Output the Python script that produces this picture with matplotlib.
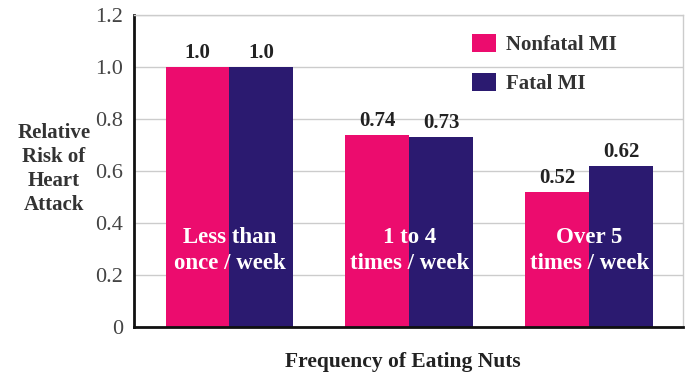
import numpy as np
import matplotlib
matplotlib.use("Agg")
import matplotlib.pyplot as plt

plt.rcParams['font.family'] = ['Liberation Serif', 'DejaVu Serif']

# データ
groups = ["Less than\nonce / week", "1 to 4\ntimes / week", "Over 5\ntimes / week"]
nonfatal = [1.0, 0.74, 0.52]
fatal = [1.0, 0.73, 0.62]
nonfatal_txt = ["1.0", "0.74", "0.52"]
fatal_txt = ["1.0", "0.73", "0.62"]
yticks = [0, 0.2, 0.4, 0.6, 0.8, 1.0, 1.2]
ytick_txt = ["0", "0.2", "0.4", "0.6", "0.8", "1.0", "1.2"]

pink = '#EC0C6E'
navy = '#2B1A70'

fig = plt.figure(figsize=(6.91, 3.73), dpi=100)
ax = fig.add_axes([0.194, 0.123, 0.794, 0.837])

x = np.arange(len(groups))
w = 0.355
ax.bar(x - w / 2, nonfatal, w, color=pink, label="Nonfatal MI", zorder=2)
ax.bar(x + w / 2, fatal, w, color=navy, label="Fatal MI", zorder=2)

# 値ラベル
for i in range(len(groups)):
    ax.text(x[i] - w / 2, nonfatal[i] + 0.015, nonfatal_txt[i], ha='center',
            va='bottom', fontsize=15, fontweight='bold', color='#222222')
    ax.text(x[i] + w / 2, fatal[i] + 0.015, fatal_txt[i], ha='center',
            va='bottom', fontsize=15, fontweight='bold', color='#222222')
    ax.text(x[i], 0.296, groups[i], ha='center', va='center', fontsize=16.5,
            fontweight='bold', color='white', linespacing=1.3, zorder=3)

ax.set_xlim(-0.53, 2.52)
ax.set_ylim(0, 1.2)
ax.set_yticks(yticks)
ax.set_yticklabels(ytick_txt, fontsize=16, color='#444444')
ax.set_xticks([])
ax.tick_params(axis='y', length=0, pad=8)
ax.yaxis.grid(True, color='#cccccc', linewidth=1, zorder=0)
ax.set_axisbelow(True)

for s in ['top', 'right']:
    ax.spines[s].set_color('#cccccc')
    ax.spines[s].set_linewidth(1)
for s in ['left', 'bottom']:
    ax.spines[s].set_color('#111111')
    ax.spines[s].set_linewidth(2)

fig.text(54 / 691, 1 - 169 / 373, "Relative\nRisk of\nHeart\nAttack", ha='center',
         va='center', fontsize=15, fontweight='bold', color='#333333',
         linespacing=1.27)
fig.text(403 / 691, 1 - 362 / 373, "Frequency of Eating Nuts", ha='center',
         va='center', fontsize=15.5, fontweight='bold', color='#222222')

leg = ax.legend(loc='upper left', bbox_to_anchor=(0.582, 1.0), frameon=False,
                prop={'weight': 'bold', 'size': 15}, handlelength=1.15,
                handleheight=1.0, labelspacing=0.85, handletextpad=0.5)
for t in leg.get_texts():
    t.set_color('#333333')

fig.savefig("out.png", dpi=100)
